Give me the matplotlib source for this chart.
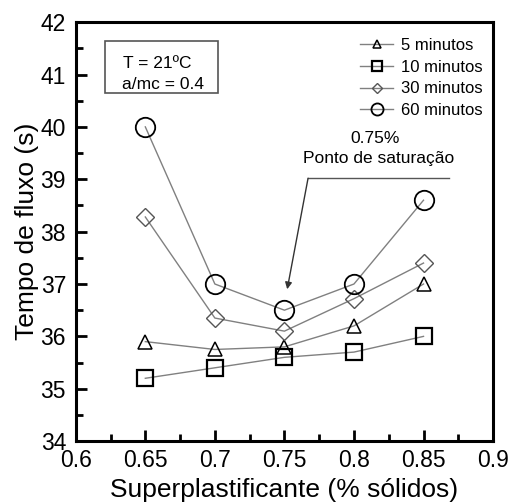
import matplotlib
matplotlib.use("Agg")
import matplotlib.pyplot as plt
from matplotlib.ticker import MultipleLocator
from matplotlib.patches import Rectangle

plt.rcParams['font.family'] = ['Liberation Sans', 'DejaVu Sans']

x = [0.65, 0.7, 0.75, 0.8, 0.85]
t5 = [35.9, 35.75, 35.8, 36.2, 37.0]
t10 = [35.2, 35.4, 35.6, 35.7, 36.0]
t30 = [38.28, 36.35, 36.1, 36.72, 37.4]
t60 = [40.0, 37.0, 36.5, 37.0, 38.6]
labels = ['5 minutos', '10 minutos', '30 minutos', '60 minutos']
xticks = [0.6, 0.65, 0.7, 0.75, 0.8, 0.85, 0.9]
xticklabels = ['0.6', '0.65', '0.7', '0.75', '0.8', '0.85', '0.9']
yticks = [34, 35, 36, 37, 38, 39, 40, 41, 42]

fig = plt.figure(figsize=(5.12, 5.03), dpi=100)
ax = fig.add_axes([0.148, 0.123, 0.815, 0.833])

lc = '#808080'
ax.plot(x, t5, color=lc, lw=1, marker='^', ms=10, mfc='none', mec='black', mew=1.1, label=labels[0])
ax.plot(x, t10, color=lc, lw=1, marker='s', ms=11, mfc='none', mec='black', mew=1.6, label=labels[1])
ax.plot(x, t30, color=lc, lw=1, marker='D', ms=9, mfc='none', mec='#555555', mew=1.0, label=labels[2])
ax.plot(x, t60, color=lc, lw=1, marker='o', ms=14, mfc='none', mec='black', mew=1.3, label=labels[3])

ax.set_xlim(0.6, 0.9)
ax.set_ylim(34, 42)
ax.set_xticks(xticks)
ax.set_xticklabels(xticklabels)
ax.set_yticks(yticks)
ax.xaxis.set_minor_locator(MultipleLocator(0.025))
ax.yaxis.set_minor_locator(MultipleLocator(0.5))
ax.tick_params(which='both', direction='in', width=2, labelsize=16.5)
ax.tick_params(which='major', length=8)
ax.tick_params(axis='x', which='major', pad=6)
ax.tick_params(axis='y', which='major', pad=7)
ax.tick_params(which='minor', length=5)
for s in ax.spines.values():
    s.set_linewidth(2.2)

ax.set_xlabel('Superplastificante (% sólidos)', fontsize=19, labelpad=4)
ax.set_ylabel('Tempo de fluxo (s)', fontsize=19, labelpad=1)

leg = ax.legend(loc='upper left', frameon=False, fontsize=12, handlelength=2.0,
                labelspacing=0.4, handletextpad=0.45, borderpad=0, borderaxespad=0,
                markerscale=0.62, bbox_to_anchor=(0.681, 0.962))

ax.add_patch(Rectangle((0.0695, 0.830), 0.271, 0.125, transform=ax.transAxes,
                       fc='white', ec='#555555', lw=1.2, zorder=3))
ax.text(0.113, 0.902, 'T = 21ºC', transform=ax.transAxes, fontsize=12.5,
        ha='left', va='center', zorder=4)
ax.text(0.111, 0.850, 'a/mc = 0.4', transform=ax.transAxes, fontsize=12.5,
        ha='left', va='center', zorder=4)

ax.text(0.815, 39.78, '0.75%', fontsize=12.5, ha='center', va='center')
ax.text(0.818, 39.4, 'Ponto de saturação', fontsize=12.5, ha='center', va='center')
ax.plot([0.868, 0.767], [39.02, 39.02], color='#555555', lw=1)
ax.annotate('', xy=(0.752, 36.9), xytext=(0.767, 39.02),
            arrowprops=dict(arrowstyle='-|>', color='#333333', lw=1, mutation_scale=10,
                            shrinkA=0, shrinkB=0))

fig.savefig('out.png', dpi=100)
